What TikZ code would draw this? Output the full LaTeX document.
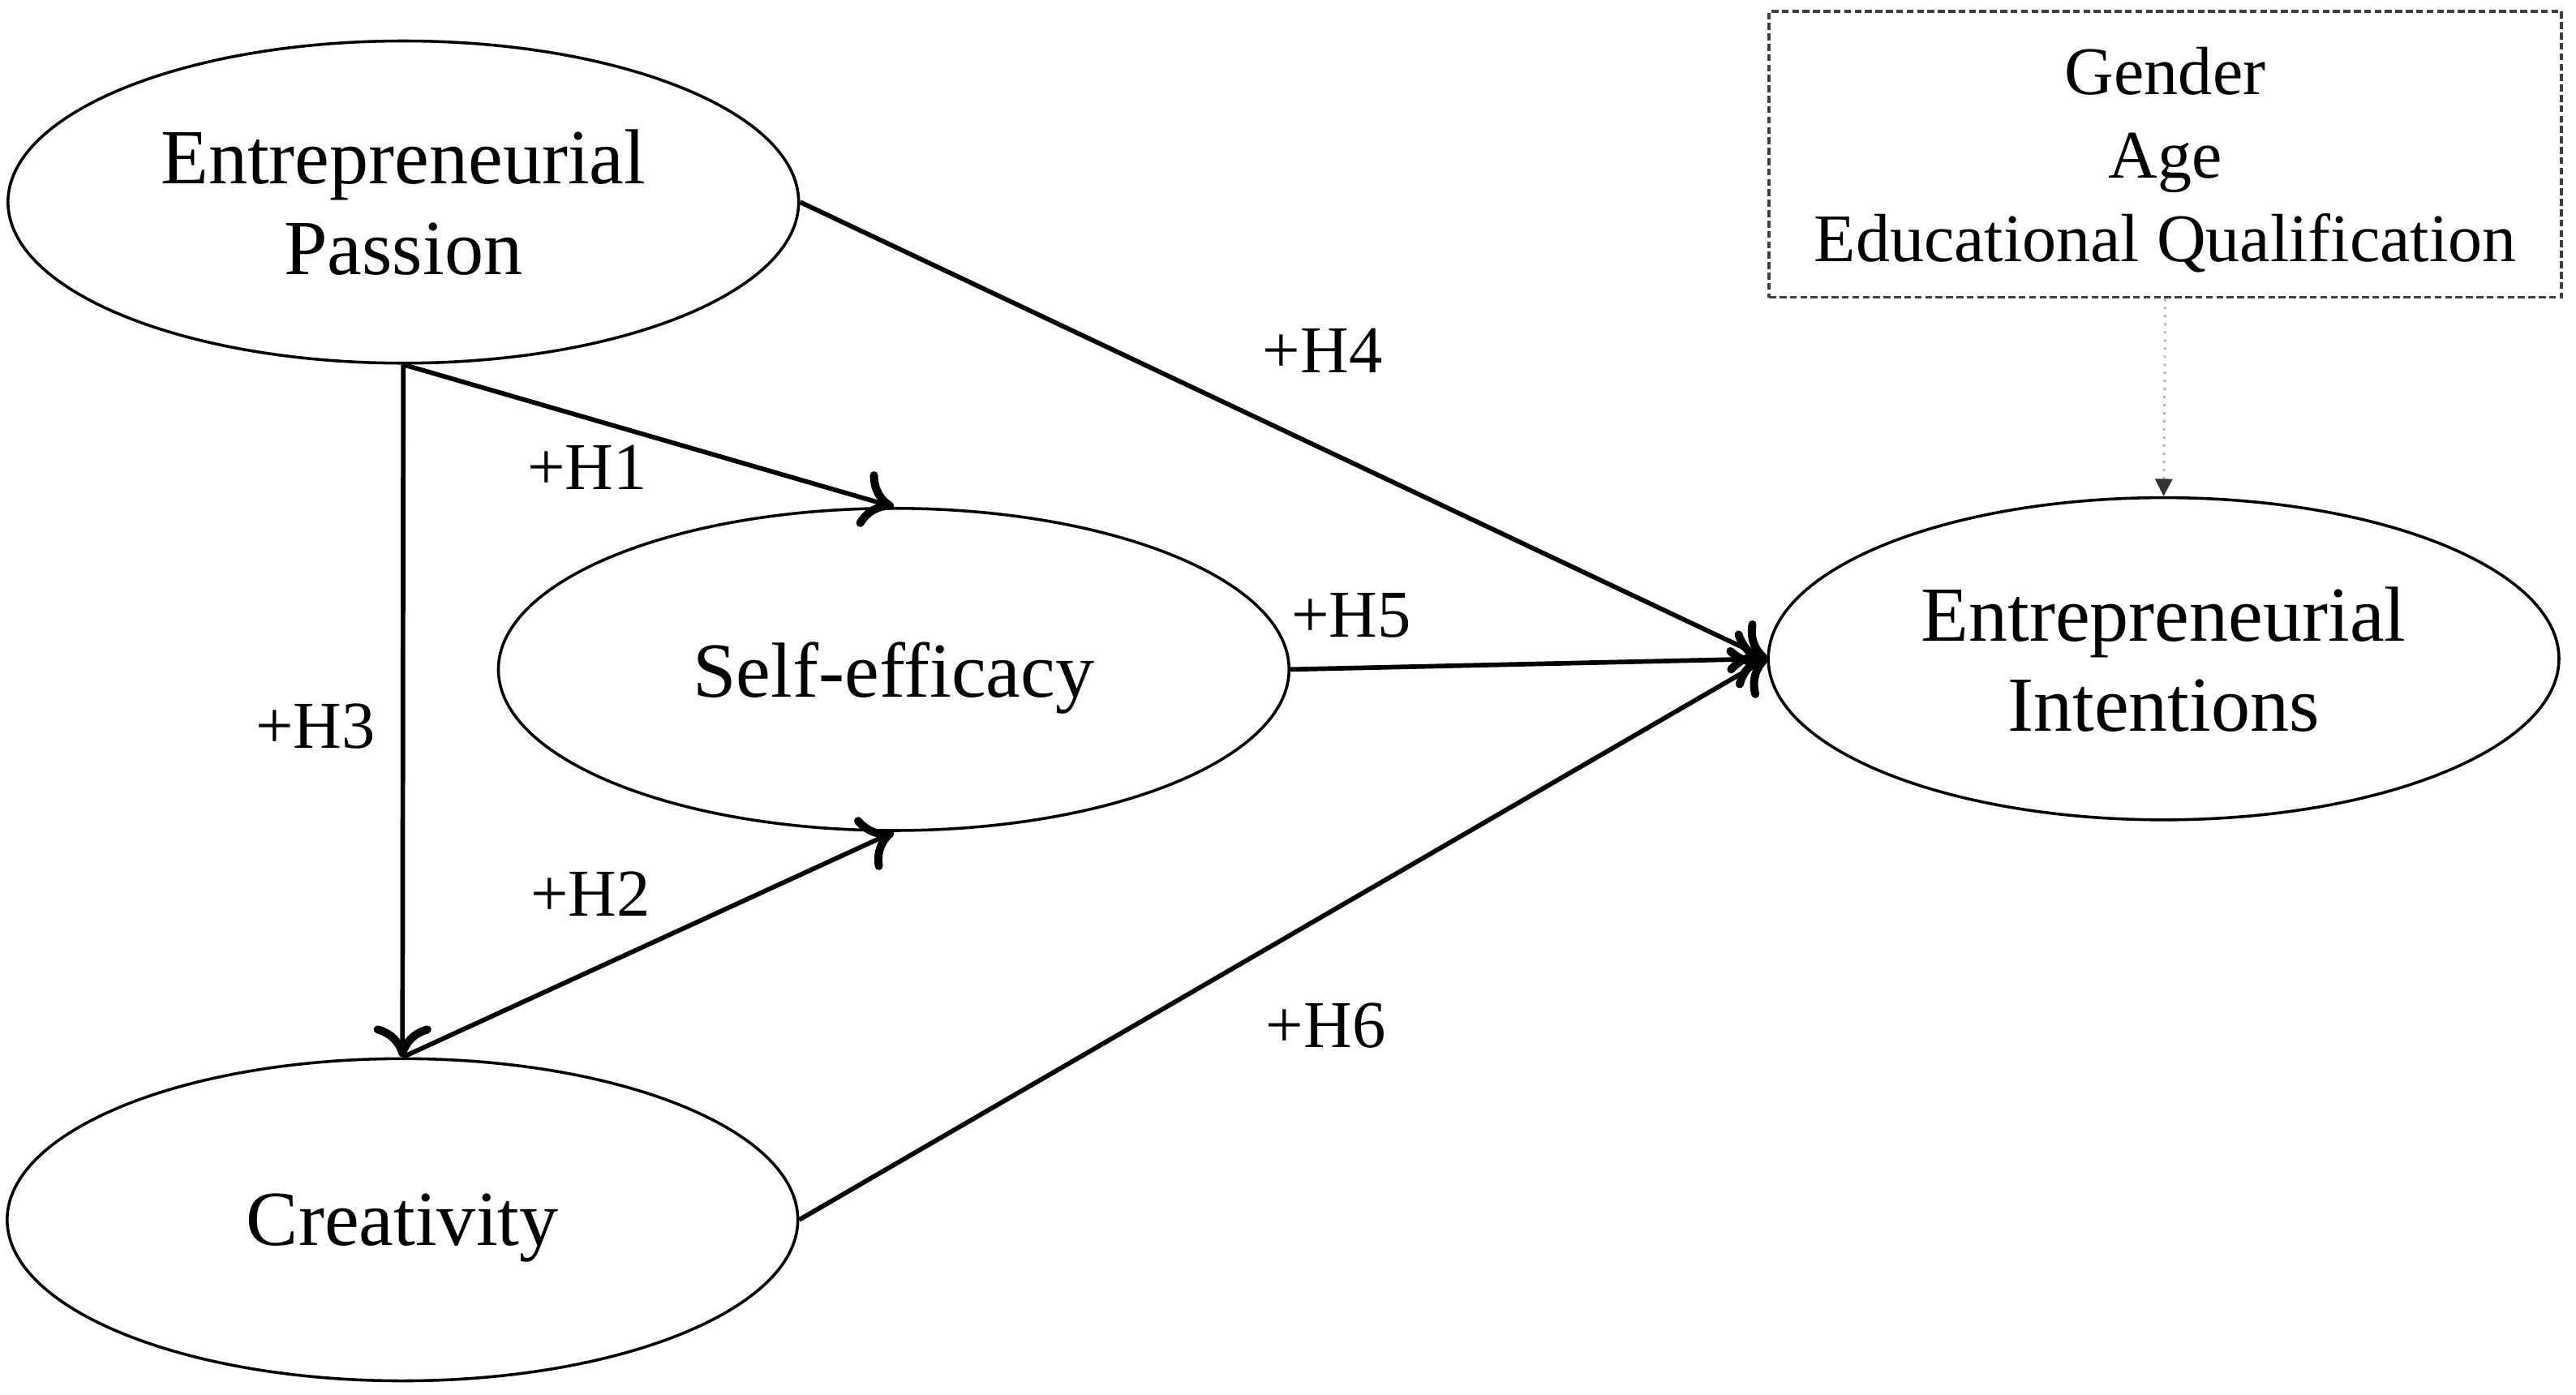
\documentclass[tikz,border=0pt]{standalone}
\usepackage{fontspec}
\setmainfont{Liberation Serif}
\usetikzlibrary{positioning,shapes.geometric,arrows.meta}

\begin{document}
\begin{tikzpicture}[x=0.01cm,y=-0.01cm,
  latent/.style={ellipse,draw,line width=0.5pt,minimum width=4.81cm,
    minimum height=1.96cm,inner sep=0pt,align=center,text depth=0pt,
    font=\fontsize{13.5}{15.6}\selectfont},
  hyp/.style={line width=0.8pt,-{To[length=5.5pt,width=10pt,line width'=1.4pt]}},
  lbl/.style={font=\fontsize{11.6}{14}\selectfont,inner sep=0pt}]
\useasboundingbox (0,0) rectangle (1568,849);
\node[latent] (passion) at (245.5,123) {Entrepreneurial\\Passion};
\node[latent] (selfeff) at (544,407.5) {Self-efficacy};
\node[latent] (creat) at (245,742.5) {Creativity};
\node[latent] (intent) at (1317,401) {Entrepreneurial\\Intentions};
\node[draw=black!75,line width=0.5pt,dash pattern=on 1.2pt off 0.6pt,
     minimum width=4.82cm,minimum height=1.74cm,align=center,text depth=0pt,
     font=\fontsize{11.8}{14.5}\selectfont] (ctrl) at (1318,94)
     {Gender\\Age\\Educational Qualification};
\draw[hyp] (passion.south) -- (selfeff.north);
\draw[hyp] (passion.south) -- (creat.north);
\draw[hyp] (creat.north) -- (selfeff.south);
\draw[hyp] (passion.east) -- (intent.west);
\draw[hyp] (selfeff.east) -- (intent.west);
\draw[hyp] (creat.east) -- (intent.west);
\draw[gray!60,densely dotted,line width=0.4pt,
     -{Triangle[length=3pt,width=3pt,black!80]}] (ctrl.south) -- (intent.north);
\node[lbl] (h1) at (357.5,284.5) {+H1};
\node[lbl] (h2) at (359.5,544) {+H2};
\node[lbl] (h3) at (192,442) {+H3};
\node[lbl] (h4) at (805,213.5) {+H4};
\node[lbl] (h5) at (822.5,374.5) {+H5};
\node[lbl] (h6) at (807,624.5) {+H6};
\end{tikzpicture}
\end{document}
